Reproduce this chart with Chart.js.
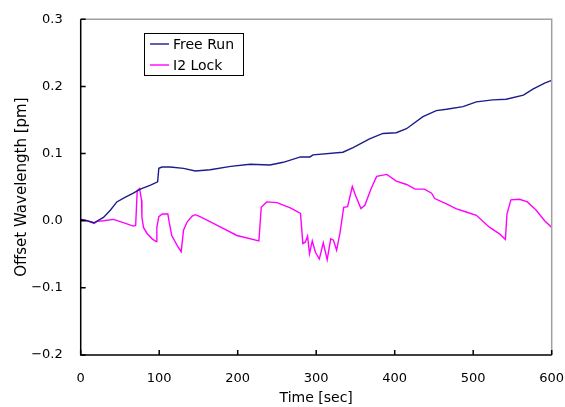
<!DOCTYPE html>
<html>
<head>
<meta charset="utf-8">
<script src="https://cdn.jsdelivr.net/npm/chart.js@4/dist/chart.umd.min.js"></script>
<style>
html, body { margin: 0; padding: 0; background: #fff; }
#wrap { width: 565px; height: 407px; }
</style>
</head>
<body>
<div id="wrap"><canvas id="chart" width="565" height="407"></canvas></div>
<script>
// series
const seriesNames = ['Free Run', 'I2 Lock'];
const seriesColors = ['#1c1c8a', '#ff00ff'];

const freeRunTime = [0, 8, 17, 29, 38, 46, 57, 67, 76, 89, 98, 99.5, 103.5, 114, 131, 146, 165, 191, 216, 241, 258, 280, 292, 296, 334, 347, 368, 385, 402, 415, 436, 453, 466, 487, 504, 525, 542, 564, 576, 591, 600];
const freeRunOffset = [0.002, 0.000, -0.003, 0.005, 0.016, 0.028, 0.035, 0.041, 0.047, 0.053, 0.058, 0.078, 0.080, 0.080, 0.078, 0.074, 0.076, 0.081, 0.084, 0.083, 0.087, 0.095, 0.095, 0.098, 0.102, 0.109, 0.122, 0.130, 0.131, 0.137, 0.155, 0.164, 0.166, 0.170, 0.177, 0.180, 0.181, 0.187, 0.196, 0.205, 0.209];

const lockTime = [0, 8, 17, 21, 29, 42, 57, 67, 70, 72, 75, 77.6, 78, 80, 84.5, 91, 96, 97, 99.5, 104, 111, 113, 116, 123, 128, 131, 135.5, 142, 146, 152, 174, 199, 227, 230, 237, 250, 267, 280, 283, 286, 289, 291.5, 295, 299, 304, 309, 314, 318.5, 322, 326, 330.5, 335, 340, 346, 350, 357, 362, 370, 377, 390, 402, 415, 426, 438, 447, 451, 466, 478, 491, 504, 521, 534, 541, 543, 548, 559, 569, 580, 591, 600];
const lockOffset = [0.002, 0.000, -0.004, -0.001, 0.000, 0.002, -0.004, -0.008, -0.007, 0.045, 0.048, 0.030, 0.005, -0.010, -0.019, -0.027, -0.031, -0.010, 0.006, 0.010, 0.010, -0.004, -0.022, -0.037, -0.046, -0.014, -0.002, 0.007, 0.009, 0.006, -0.007, -0.022, -0.030, 0.020, 0.028, 0.027, 0.019, 0.011, -0.034, -0.032, -0.023, -0.049, -0.030, -0.047, -0.057, -0.033, -0.058, -0.027, -0.029, -0.044, -0.017, 0.020, 0.021, 0.051, 0.038, 0.018, 0.023, 0.048, 0.066, 0.069, 0.059, 0.054, 0.047, 0.047, 0.041, 0.033, 0.025, 0.018, 0.013, 0.008, -0.010, -0.020, -0.028, 0.010, 0.031, 0.032, 0.028, 0.016, 0.000, -0.010];

const xTicks = [0, 100, 200, 300, 400, 500, 600];
const yTicks = [-0.2, -0.1, 0.0, 0.1, 0.2, 0.3];

const FONT = 'DejaVu Sans';

function toPoints(xs, ys) {
    return xs.map((x, i) => ({ x: x, y: ys[i] }));
}

function fmtY(v) {
    if (Math.abs(v) < 1e-9) v = 0;
    return v.toFixed(1).replace('-', '\u2212');
}

// frame: black left/bottom axes, grey top/right, inward tick marks
const framePlugin = {
    id: 'frame',
    afterDraw(chart) {
        const ctx = chart.ctx;
        const a = chart.chartArea;
        const xs = chart.scales.x;
        const ys = chart.scales.y;
        ctx.save();
        ctx.lineWidth = 1.5;
        ctx.strokeStyle = '#a0a0a0';
        ctx.beginPath();
        ctx.moveTo(a.left, a.top);
        ctx.lineTo(a.right, a.top);
        ctx.lineTo(a.right, a.bottom);
        ctx.stroke();
        ctx.strokeStyle = '#000';
        ctx.beginPath();
        ctx.moveTo(a.left, a.top);
        ctx.lineTo(a.left, a.bottom);
        ctx.lineTo(a.right, a.bottom);
        ctx.stroke();
        ctx.beginPath();
        yTicks.forEach(v => {
            const y = ys.getPixelForValue(v);
            ctx.moveTo(a.left, y);
            ctx.lineTo(a.left + 5, y);
        });
        xTicks.forEach(v => {
            const x = xs.getPixelForValue(v);
            ctx.moveTo(x, a.bottom);
            ctx.lineTo(x, a.bottom - 5);
        });
        ctx.stroke();
        ctx.restore();
    }
};

// boxed legend inside the plot
const boxLegendPlugin = {
    id: 'boxLegend',
    afterDraw(chart) {
        const ctx = chart.ctx;
        const left = 144, top = 33, w = 99, h = 42;
        ctx.save();
        ctx.fillStyle = '#fff';
        ctx.fillRect(left, top, w, h);
        ctx.lineWidth = 1;
        ctx.strokeStyle = '#000';
        ctx.strokeRect(left + 0.5, top + 0.5, w, h);
        ctx.font = '14px "' + FONT + '"';
        ctx.textBaseline = 'middle';
        chart.data.datasets.forEach((ds, i) => {
            const y = top + 11 + i * 21;
            ctx.strokeStyle = ds.borderColor;
            ctx.lineWidth = 1.4;
            ctx.beginPath();
            ctx.moveTo(left + 6, y);
            ctx.lineTo(left + 25, y);
            ctx.stroke();
            ctx.fillStyle = '#000';
            ctx.fillText(ds.label, left + 29, y + 1);
        });
        ctx.restore();
    }
};

const hiddenTickGrid = len => ({
    display: true,
    drawOnChartArea: false,
    drawTicks: true,
    tickLength: len,
    tickColor: 'rgba(0,0,0,0)'
});

new Chart(document.getElementById('chart'), {
    type: 'line',
    data: {
        datasets: [
            {
                label: seriesNames[0],
                data: toPoints(freeRunTime, freeRunOffset),
                borderColor: seriesColors[0],
                borderWidth: 1.4,
                pointRadius: 0,
                tension: 0
            },
            {
                label: seriesNames[1],
                data: toPoints(lockTime, lockOffset),
                borderColor: seriesColors[1],
                borderWidth: 1.4,
                pointRadius: 0,
                tension: 0
            }
        ]
    },
    options: {
        responsive: false,
        animation: false,
        layout: { padding: { top: 19.3, right: 13.3, left: 0, bottom: 0 } },
        plugins: {
            legend: { display: false },
            tooltip: { enabled: false }
        },
        scales: {
            x: {
                type: 'linear',
                min: 0,
                max: 600,
                afterBuildTicks: s => { s.ticks = xTicks.map(v => ({ value: v })); },
                afterFit: s => { s.height = 52; },
                grid: hiddenTickGrid(16),
                border: { display: false },
                ticks: { color: '#000', font: { family: FONT, size: 13 }, padding: 0, maxRotation: 0 },
                title: { display: true, text: 'Time [sec]', color: '#000', font: { family: FONT, size: 14 }, padding: { top: 0, bottom: 0 } }
            },
            y: {
                min: -0.2,
                max: 0.3,
                afterBuildTicks: s => { s.ticks = yTicks.map(v => ({ value: v })); },
                afterFit: s => { s.width = 80.7; },
                grid: hiddenTickGrid(18),
                border: { display: false },
                ticks: { color: '#000', font: { family: FONT, size: 13 }, padding: 0, callback: v => fmtY(v) },
                title: { display: true, text: 'Offset Wavelength [pm]', color: '#000', font: { family: FONT, size: 15 }, padding: { top: 13, bottom: 0 } }
            }
        }
    },
    plugins: [framePlugin, boxLegendPlugin]
});
</script>
</body>
</html>
